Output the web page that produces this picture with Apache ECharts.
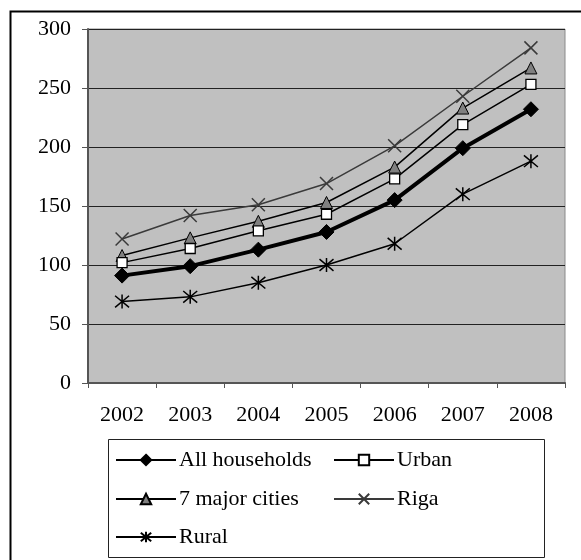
<!DOCTYPE html>
<html>
<head>
<meta charset="utf-8">
<script src="https://cdn.jsdelivr.net/npm/echarts@6/dist/echarts.min.js"></script>
<style>
  html, body { margin: 0; padding: 0; background: #fff; }
  #chart { width: 581px; height: 560px; }
</style>
</head>
<body>
<div id="chart"></div>
<script>
// Household income index by area type, 2002-2008
const years = ['2002', '2003', '2004', '2005', '2006', '2007', '2008'];
const allHouseholds = [91, 99, 113, 128, 155, 199, 232];
const urban = [102, 114, 129, 143, 173, 219, 253];
const majorCities = [108, 123, 137, 153, 183, 233, 267];
const riga = [122, 142, 151, 169, 201, 243, 284];
const rural = [69, 73, 85, 100, 118, 160, 188];
const yTicks = { min: 0, max: 300, step: 50 };

const FONT = 'Liberation Serif';
const FONT_SIZE = 22;
const crossPath = 'path://M0,0L10,10M10,0L0,10';
const starPath = 'path://M0,0L10,10M10,0L0,10M5,-1L5,11';

const chart = echarts.init(document.getElementById('chart'), null, { renderer: 'canvas' });

function legendAt(name, left, top) {
  return {
    data: [name],
    left: left,
    top: top,
    orient: 'horizontal',
    itemWidth: 60,
    itemHeight: 13,
    itemGap: 6,
    padding: 0,
    selectedMode: false,
    textStyle: { fontFamily: FONT, fontSize: FONT_SIZE, color: '#000', padding: [0, 0, 0, -2] }
  };
}

const option = {
  animation: false,
  backgroundColor: '#fff',
  grid: {
    left: 88, top: 29, right: 16, bottom: 177,
    show: true, backgroundColor: '#c0c0c0', borderColor: '#8a8a8a', borderWidth: 1
  },
  xAxis: {
    type: 'category',
    data: years,
    boundaryGap: true,
    axisLine: { lineStyle: { color: '#555', width: 2 } },
    axisTick: { show: true, length: 5, lineStyle: { color: '#555', width: 1 } },
    axisLabel: { fontFamily: FONT, fontSize: FONT_SIZE, color: '#000', margin: 21 },
    splitLine: { show: false }
  },
  yAxis: {
    type: 'value',
    min: yTicks.min, max: yTicks.max, interval: yTicks.step,
    axisLine: { show: true, lineStyle: { color: '#555', width: 2 } },
    axisTick: { show: true, length: 6, lineStyle: { color: '#555', width: 1 } },
    axisLabel: { fontFamily: FONT, fontSize: FONT_SIZE, color: '#000', margin: 17 },
    splitLine: { show: true, lineStyle: { color: '#222', width: 1 } }
  },
  legend: [
    legendAt('All households', 115, 449),
    legendAt('Urban', 333, 449),
    legendAt('7 major cities', 115, 488),
    legendAt('Riga', 333, 488),
    legendAt('Rural', 115, 526)
  ],
  graphic: [
    {
      type: 'rect', left: 8, top: 9, z: 100, silent: true,
      shape: { x: 0, y: 0, width: 620, height: 620 },
      style: { fill: 'none', stroke: '#000', lineWidth: 2 }
    },
    {
      type: 'rect', z: 100, silent: true,
      shape: { x: 108.5, y: 439.5, width: 436, height: 118 },
      style: { fill: 'none', stroke: '#222', lineWidth: 1 }
    }
  ],
  series: [
    {
      name: 'Rural', type: 'line', data: rural,
      symbol: starPath, symbolSize: 14, showAllSymbol: true,
      lineStyle: { color: '#000', width: 1.5 },
      itemStyle: { color: 'none', borderColor: '#000', borderWidth: 1.5 },
      z: 3
    },
    {
      name: 'Riga', type: 'line', data: riga,
      symbol: crossPath, symbolSize: 13,
      lineStyle: { color: '#3a3a3a', width: 1.5 },
      itemStyle: { color: 'none', borderColor: '#3a3a3a', borderWidth: 1.5 },
      z: 3
    },
    {
      name: '7 major cities', type: 'line', data: majorCities,
      symbol: 'triangle', symbolSize: 12,
      lineStyle: { color: '#000', width: 1.5 },
      itemStyle: { color: '#808080', borderColor: '#000', borderWidth: 1 },
      z: 4
    },
    {
      name: 'Urban', type: 'line', data: urban,
      symbol: 'rect', symbolSize: 10,
      lineStyle: { color: '#000', width: 1.5 },
      itemStyle: { color: '#fff', borderColor: '#000', borderWidth: 1.3 },
      z: 5
    },
    {
      name: 'All households', type: 'line', data: allHouseholds,
      symbol: 'diamond', symbolSize: 15,
      lineStyle: { color: '#000', width: 4 },
      itemStyle: { color: '#000', borderColor: '#000', borderWidth: 1 },
      z: 6
    }
  ]
};

chart.setOption(option);
</script>
</body>
</html>
